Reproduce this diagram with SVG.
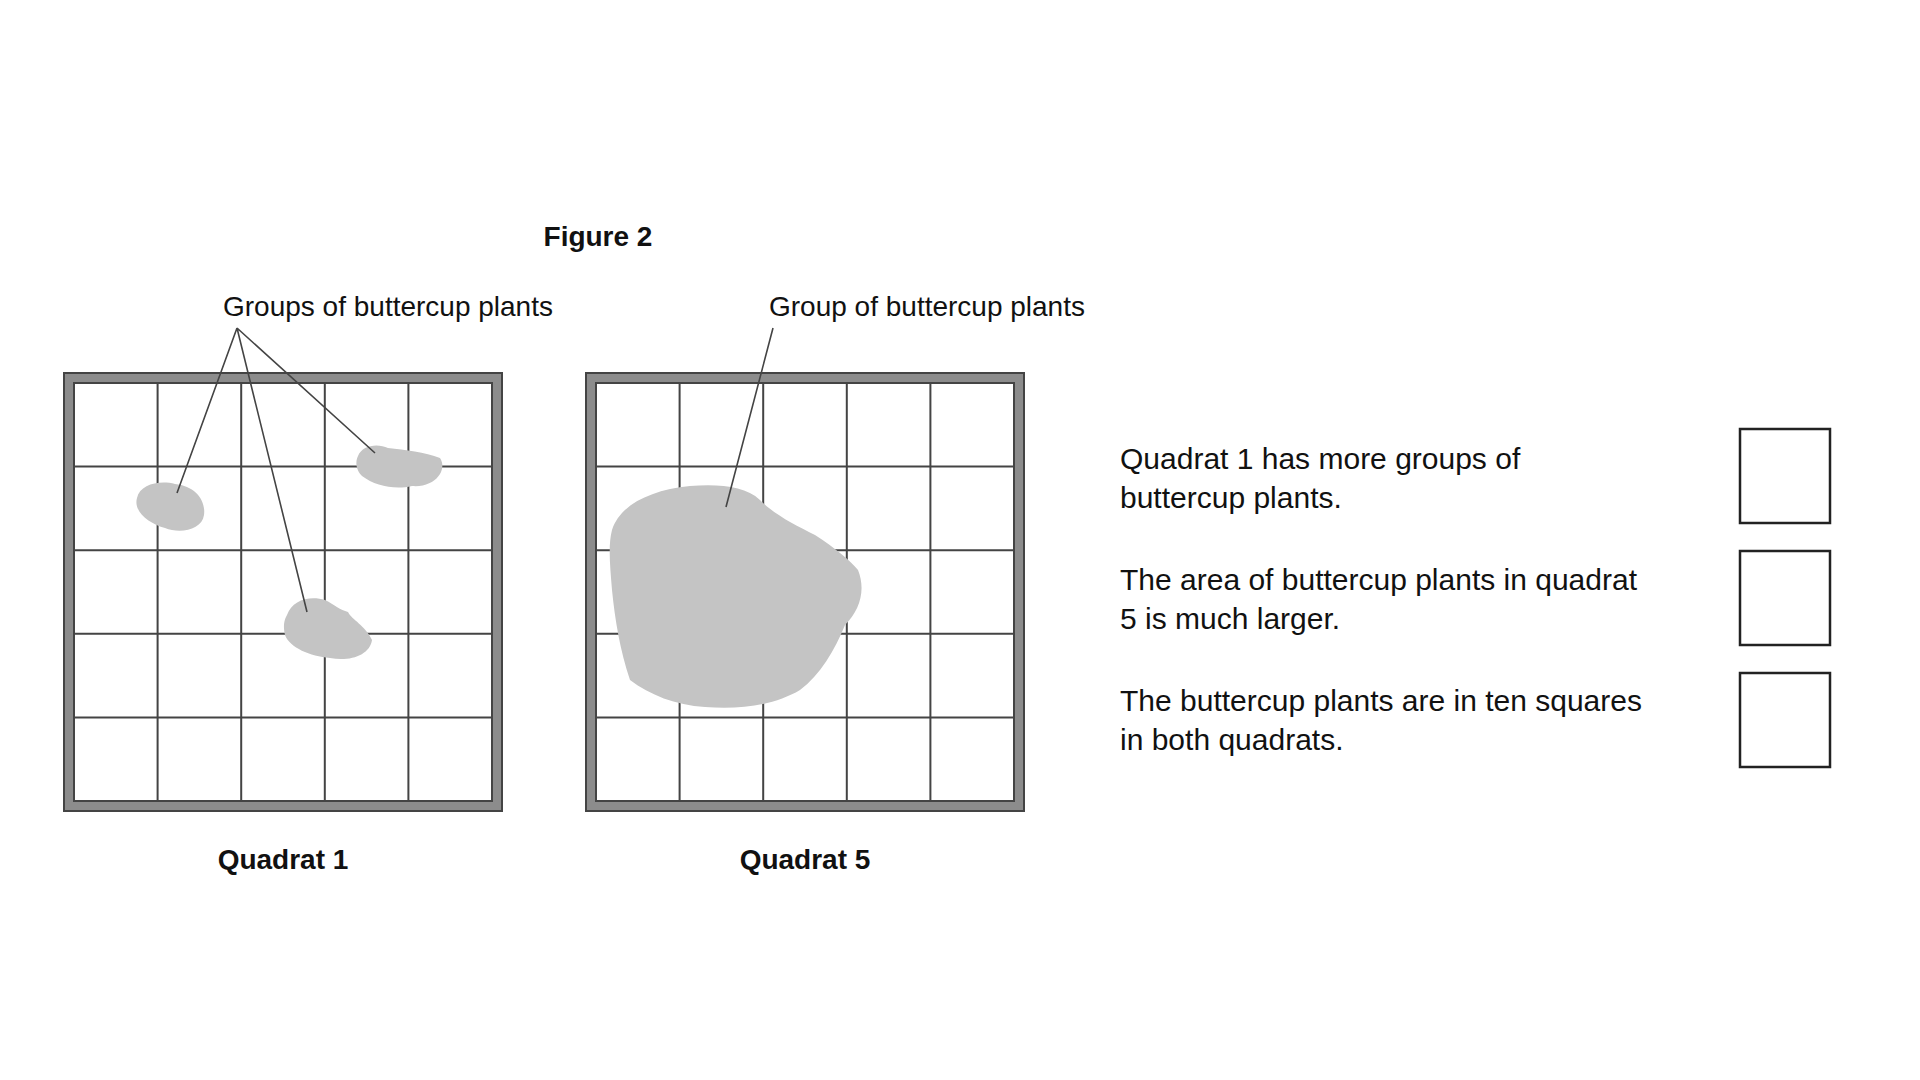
<svg xmlns="http://www.w3.org/2000/svg" width="1920" height="1080" viewBox="0 0 1920 1080">
<style>
text{font-family:"Liberation Sans",Arial,sans-serif;fill:#111}
.b{font-weight:bold}
.frame{fill:#8c8c8c;stroke:#444;stroke-width:2}
.inner{fill:#fff;stroke:#444;stroke-width:2}
.grid{stroke:#444;stroke-width:2;fill:none}
.blob{fill:#c4c4c4}
.lead{stroke:#444;stroke-width:1.6;fill:none}
.box{fill:#fff;stroke:#222;stroke-width:2.5}
</style>
<rect width="1920" height="1080" fill="#fff"/>
<text class="b" x="598" y="246" font-size="28" text-anchor="middle">Figure 2</text>
<text x="223" y="316" font-size="28">Groups of buttercup plants</text>
<text x="769" y="316" font-size="28">Group of buttercup plants</text>
<g id="quadrat1">
<rect class="frame" x="64" y="373" width="438" height="438"/>
<rect class="inner" x="74" y="383" width="418" height="418"/>
<path class="grid" d="M157.6 383V801M241.2 383V801M324.8 383V801M408.4 383V801M74 466.6H492M74 550.2H492M74 633.8H492M74 717.4H492"/>
<path class="blob" d="M137 498 C140 484 160 480 175 484 C195 486 206 500 204 515 C202 530 180 534 165 528 C150 524 133 512 137 498Z"/>
<path class="blob" d="M358 456 C362 445 378 443 388 448 C405 450 425 452 440 458 C448 470 435 488 412 486 C395 490 375 486 362 476 C356 470 355 462 358 456Z"/>
<path class="blob" d="M287 615 C292 600 310 595 325 600 C335 605 340 610 348 612 C352 620 365 625 372 640 C370 655 350 662 330 658 C310 656 290 648 285 635 C283 626 284 620 287 615Z"/>
<text class="b" x="283" y="869" font-size="28" text-anchor="middle">Quadrat 1</text>
</g>
<g id="quadrat5">
<rect class="frame" x="586" y="373" width="438" height="438"/>
<rect class="inner" x="596" y="383" width="418" height="418"/>
<path class="grid" d="M679.6 383V801M763.2 383V801M846.8 383V801M930.4 383V801M596 466.6H1014M596 550.2H1014M596 633.8H1014M596 717.4H1014"/>
<path class="blob" d="M612 530 C620 505 650 490 690 486 C720 484 745 486 760 500 C775 515 795 525 815 535 C835 548 850 560 858 570 C866 590 860 610 845 625 C835 650 820 675 800 690 C775 705 740 710 705 707 C675 705 650 695 630 680 C620 650 615 620 612 590 C610 565 608 545 612 530Z"/>
<text class="b" x="805" y="869" font-size="28" text-anchor="middle">Quadrat 5</text>
</g>
<g id="connectors">
<path class="lead" d="M237 328 L177 493 M237 328 L307 612 M237 328 L375 453 M773 328 L726 507"/>
</g>
<g id="options" font-size="30">
<text x="1120" y="469">Quadrat 1 has more groups of</text>
<text x="1120" y="508">buttercup plants.</text>
<text x="1120" y="590">The area of buttercup plants in quadrat</text>
<text x="1120" y="629">5 is much larger.</text>
<text x="1120" y="711">The buttercup plants are in ten squares</text>
<text x="1120" y="750">in both quadrats.</text>
<rect class="box" x="1740" y="429" width="90" height="94"/>
<rect class="box" x="1740" y="551" width="90" height="94"/>
<rect class="box" x="1740" y="673" width="90" height="94"/>
</g>
</svg>
